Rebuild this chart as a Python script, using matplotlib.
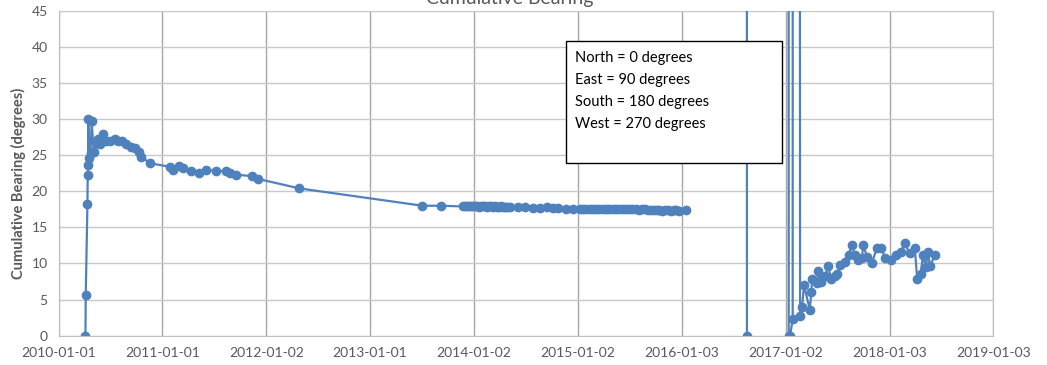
import numpy as np
import pandas as pd
import matplotlib
matplotlib.use("Agg")
import matplotlib.pyplot as plt
from matplotlib.patches import Rectangle

plt.rcParams['font.family'] = ['Lato', 'DejaVu Sans']

# survey dates and cumulative bearing (degrees); NaN = gap in the record,
# values near 360 wrap round and go off the top of the chart
dates = [
    "2010-04-05", "2010-04-06", "2010-04-12", "2010-04-13", "2010-04-14", "2010-04-15",
    "2010-04-18", "2010-04-23", "2010-04-27", "2010-05-04", "2010-05-14", "2010-05-20",
    "2010-05-26", "2010-06-06", "2010-06-18", "2010-06-30", "2010-07-17", "2010-07-28",
    "2010-08-13", "2010-08-27", "2010-09-14", "2010-09-26", "2010-10-11", "2010-10-19",
    "2010-11-17", "2011-01-26", "2011-02-07", "2011-03-02", "2011-03-14", "2011-04-12",
    "2011-05-11", "2011-06-04", "2011-07-09", "2011-08-13", "2011-08-25", "2011-09-17",
    "2011-11-12", "2011-12-05", "2012-04-27", "2013-07-04", "2013-09-06",
    "2013-11-25", "2013-12-02", "2013-12-09", "2013-12-16", "2013-12-23", "2013-12-30",
    "2014-01-06", "2014-01-13", "2014-01-20", "2014-01-27", "2014-02-03", "2014-02-10",
    "2014-02-17", "2014-02-24", "2014-03-03", "2014-03-10", "2014-03-17", "2014-03-24",
    "2014-03-31", "2014-04-07", "2014-04-14", "2014-04-21", "2014-04-28", "2014-05-08",
    "2014-06-06", "2014-06-29", "2014-07-27", "2014-08-21", "2014-09-14", "2014-10-06",
    "2014-10-24", "2014-11-20", "2014-12-16",
    "2015-01-08", "2015-01-20", "2015-02-01", "2015-02-12", "2015-02-24", "2015-03-08",
    "2015-03-19", "2015-03-31", "2015-04-12", "2015-04-23", "2015-05-05", "2015-05-16",
    "2015-05-28", "2015-06-09", "2015-06-20", "2015-07-02", "2015-07-13", "2015-07-25",
    "2015-08-06", "2015-08-17", "2015-08-27", "2015-09-06", "2015-09-16", "2015-09-26",
    "2015-10-06", "2015-10-16", "2015-10-26", "2015-11-05", "2015-11-15", "2015-11-25",
    "2015-12-05", "2015-12-15", "2015-12-24", "2016-01-19",
    "2016-04-01", "2016-08-18", "2016-08-19", "2016-11-01",
    "2017-01-12", "2017-01-13", "2017-01-18", "2017-01-27", "2017-01-28", "2017-02-18",
    "2017-02-22", "2017-03-01", "2017-03-08", "2017-03-28", "2017-04-03", "2017-04-05",
    "2017-04-24", "2017-04-26", "2017-05-08", "2017-05-20", "2017-06-01", "2017-06-12",
    "2017-06-24", "2017-07-03", "2017-07-12", "2017-07-30", "2017-08-13", "2017-08-22",
    "2017-09-03", "2017-09-15", "2017-09-27", "2017-10-03", "2017-10-15", "2017-11-01",
    "2017-11-19", "2017-12-05", "2017-12-19", "2018-01-09", "2018-01-27", "2018-02-11",
    "2018-02-25", "2018-03-15", "2018-04-02", "2018-04-10", "2018-04-22", "2018-05-01",
    "2018-05-10", "2018-05-19", "2018-05-25", "2018-06-12",
]
bearing = [
    0.0, 5.6, 18.3, 22.3, 23.6, 30.0,
    24.6, 25.3, 29.7, 25.5, 26.7, 27.3,
    26.5, 28.0, 27.0, 27.0, 27.2, 27.0,
    27.0, 26.6, 26.2, 26.0, 25.5, 24.8,
    23.9, 23.4, 23.0, 23.5, 23.2, 22.8,
    22.5, 23.0, 22.8, 22.8, 22.5, 22.3,
    22.1, 21.7, 20.4, 18.0, 18.0,
    17.9, 18.0, 17.9, 17.9, 18.0, 17.9,
    17.9, 17.9, 17.8, 17.9, 17.9, 17.9,
    17.8, 17.9, 17.9, 17.8, 17.9, 17.8,
    17.8, 17.9, 17.8, 17.8, 17.8, 17.8,
    17.8, 17.8, 17.7, 17.7, 17.8, 17.7,
    17.7, 17.6, 17.6,
    17.6, 17.5, 17.5, 17.6, 17.5, 17.5,
    17.5, 17.6, 17.5, 17.5, 17.5, 17.5,
    17.5, 17.5, 17.6, 17.5, 17.5, 17.5,
    17.4, 17.5, 17.5, 17.4, 17.4, 17.4,
    17.4, 17.4, 17.3, 17.4, 17.4, 17.3,
    17.4, 17.4, 17.3, 17.4,
    np.nan, 355.0, 0.0, np.nan,
    355.0, 0.0, 0.0, 2.3, 358.0, 358.0,
    2.7, 4.0, 7.0, 3.6, 6.1, 7.9,
    7.3, 8.9, 7.5, 8.2, 9.6, 7.8,
    8.2, 8.6, 9.8, 10.2, 11.2, 12.6,
    11.2, 10.5, 10.7, 12.6, 10.9, 10.0,
    12.1, 12.1, 10.7, 10.5, 11.2, 11.6,
    12.8, 11.4, 12.1, 7.9, 8.6, 11.2,
    9.5, 11.6, 9.6, 11.2,
]

tick_labels = ["2010-01-01", "2011-01-01", "2012-01-02", "2013-01-01", "2014-01-02",
               "2015-01-02", "2016-01-03", "2017-01-02", "2018-01-03", "2019-01-03"]
y_ticks = [0, 5, 10, 15, 20, 25, 30, 35, 40, 45]
note_lines = ["North = 0 degrees", "East = 90 degrees",
              "South = 180 degrees", "West = 270 degrees"]

blue = "#4F81BD"
grey_txt = "#595959"

fig = plt.figure(figsize=(10.47, 3.65), dpi=100)
ax = fig.add_axes([0.0561, 0.0803, 0.8926, 0.8901])

x = pd.to_datetime(dates)
ax.plot(x, bearing, color=blue, lw=1.6, marker="o", ms=6, mec=blue, mfc=blue)

ticks = pd.to_datetime(tick_labels)
ax.set_xticks(ticks)
ax.set_xticklabels(tick_labels)
ax.set_xlim(ticks[0], ticks[-1])
ax.set_ylim(0, 45)
ax.set_yticks(y_ticks)

ax.xaxis.grid(True, color="#A6A6A6", lw=1)
ax.yaxis.grid(True, color="#C8C8C8", lw=1)
ax.set_axisbelow(True)
for s in ax.spines.values():
    s.set_color("#BFBFBF")
ax.spines["top"].set_visible(False)
ax.tick_params(length=0, labelsize=10, colors=grey_txt, pad=8)

fig.text(18 / 1047, 1 - 183 / 365, "Cumulative Bearing (degrees)", rotation=90,
         ha="center", va="center", fontsize=10.5, fontweight="bold", color=grey_txt)
fig.text(0.487, 1.005, "Cumulative Bearing", ha="center", va="center",
         fontsize=14, color=grey_txt)

# note box
fig.patches.append(Rectangle((565.7 / 1047, 1 - 162.7 / 365), 216.3 / 1047, 122 / 365,
                             transform=fig.transFigure, fc="white", ec="black",
                             lw=1, zorder=5))
for i, line in enumerate(note_lines):
    fig.text(575 / 1047, 1 - (58 + i * 22) / 365, line, ha="left", va="center",
             fontsize=10.5, color="black", zorder=6)

fig.savefig("out.png", dpi=100)
